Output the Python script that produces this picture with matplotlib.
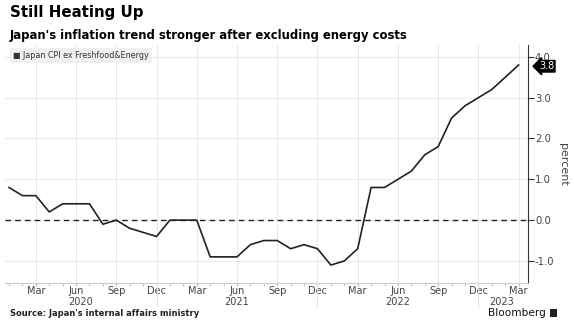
import matplotlib
matplotlib.use("Agg")
import matplotlib.pyplot as plt
import matplotlib.transforms as mtransforms
from matplotlib.patches import Rectangle

# ---- data ----
months = ["Jan", "Feb", "Mar", "Apr", "May", "Jun", "Jul", "Aug", "Sep", "Oct", "Nov", "Dec"] * 3 + ["Jan", "Feb", "Mar"]
years = [2020] * 12 + [2021] * 12 + [2022] * 12 + [2023] * 3
cpi_ex_fresh_energy = [0.8, 0.6, 0.6, 0.2, 0.4, 0.4, 0.4, -0.1, 0.0, -0.2, -0.3, -0.4,
                       0.0, 0.0, 0.0, -0.9, -0.9, -0.9, -0.6, -0.5, -0.5, -0.7, -0.6, -0.7,
                       -1.1, -1.0, -0.7, 0.8, 0.8, 1.0, 1.2, 1.6, 1.8, 2.5, 2.8, 3.0,
                       3.2, 3.5, 3.8]
y_ticks = [-1.0, 0.0, 1.0, 2.0, 3.0, 4.0]
tick_months = ["Mar", "Jun", "Sep", "Dec"]
series_label = "Japan CPI ex Freshfood&Energy"
last_label = "3.8"

x = list(range(len(cpi_ex_fresh_energy)))

fig = plt.figure(figsize=(5.74, 3.34), dpi=100)
ax_h = (283 - 45) / 334
ax = fig.add_axes([5 / 574, 1 - 283 / 334, (528 - 5) / 574, ax_h])

ax.plot(x, cpi_ex_fresh_energy, color="#222222", lw=1.2, zorder=3)
ax.axhline(0, color="#222222", lw=1.0, ls=(0, (4, 3)), zorder=2)

ax.set_xlim(-0.3, 38.7)
ax.set_ylim(-1.54, 4.29)

# ticks
xt = [i for i, m in enumerate(months) if m in tick_months]
ax.set_xticks(xt)
ax.set_xticklabels([months[i] for i in xt], fontsize=7.0, color="#444444")
ax.set_xticks(x, minor=True)
ax.tick_params(axis="x", which="major", length=2, color="#bbbbbb", pad=0.5)
ax.tick_params(axis="x", which="minor", length=2, color="#bbbbbb")

ax.yaxis.tick_right()
ax.set_yticks(y_ticks)
ax.set_yticklabels([f"{v:.1f}" for v in y_ticks], fontsize=7.2, color="#444444")
ax.tick_params(axis="y", length=4, width=0.8, color="#333333", pad=1)
ax.yaxis.set_label_position("right")
ax.set_ylabel("percent", rotation=270, fontsize=8, color="#444444", labelpad=10)

ax.grid(True, which="major", color="#e8e8e8", lw=0.7)
ax.set_axisbelow(True)
for s in ["top", "left"]:
    ax.spines[s].set_visible(False)
ax.spines["right"].set_color("#333333")
ax.spines["right"].set_linewidth(0.8)
ax.spines["bottom"].set_color("#cccccc")
ax.spines["bottom"].set_linewidth(0.8)

# year labels and separators
trans = mtransforms.blended_transform_factory(ax.transData, ax.transAxes)
px = 1 / 238.0  # one pixel in axes fraction (vertical)
year_set = sorted(set(years))
bounds = []
for yr in year_set:
    idx = [i for i, y in enumerate(years) if y == yr]
    bounds.append((idx[0], idx[-1]))
lo_lim, hi_lim = ax.get_xlim()
for k, yr in enumerate(year_set):
    start = lo_lim if k == 0 else bounds[k - 1][1]
    end = bounds[k][1] if k < len(year_set) - 1 else hi_lim
    ax.text((start + end) / 2 - (0.15 if k == len(year_set) - 1 else 0), -19 * px, str(yr),
            transform=trans, ha="center", va="center", fontsize=7.0, color="#444444")
    if k < len(year_set) - 1:
        ax.plot([bounds[k][1]] * 2, [0, -23 * px], transform=trans, color="#e0e0e0",
                lw=0.8, clip_on=False)

# last value tag
ytrans = mtransforms.blended_transform_factory(ax.transAxes, ax.transData)
ax.text(1.021, cpi_ex_fresh_energy[-1] - 0.03, last_label, transform=ytrans, fontsize=7.0,
        color="white", va="center", ha="left",
        bbox=dict(boxstyle="larrow,pad=0.08", fc="black", ec="black"), zorder=5)

# legend box
ax.text(0.015, 0.975, "\u25a0 " + series_label, transform=ax.transAxes, fontsize=5.8,
        color="#333333", va="top", ha="left",
        bbox=dict(boxstyle="square,pad=0.4", fc="#f0f0f0", ec="none"))

# titles
fig.text(10 / 574, 1 - 5 / 334, "Still Heating Up", fontsize=10.8, fontweight="bold",
         va="top", ha="left", color="black")
fig.text(10 / 574, 1 - 29 / 334, "Japan's inflation trend stronger after excluding energy costs",
         fontsize=8.4, fontweight="bold", va="top", ha="left", color="black")
fig.text(10 / 574, 1 - 314 / 334, "Source: Japan's internal affairs ministry", fontsize=6.0,
         fontweight="bold", va="center", ha="left", color="#222222")
fig.text(546 / 574, 1 - 313 / 334, "Bloomberg", fontsize=7.6, va="center", ha="right", color="#111111")
fig.patches.append(Rectangle((550 / 574, 1 - 317 / 334), 7 / 574, 8 / 334,
                             transform=fig.transFigure, fc="#222222", ec="none"))

fig.savefig("out.png", dpi=100)
